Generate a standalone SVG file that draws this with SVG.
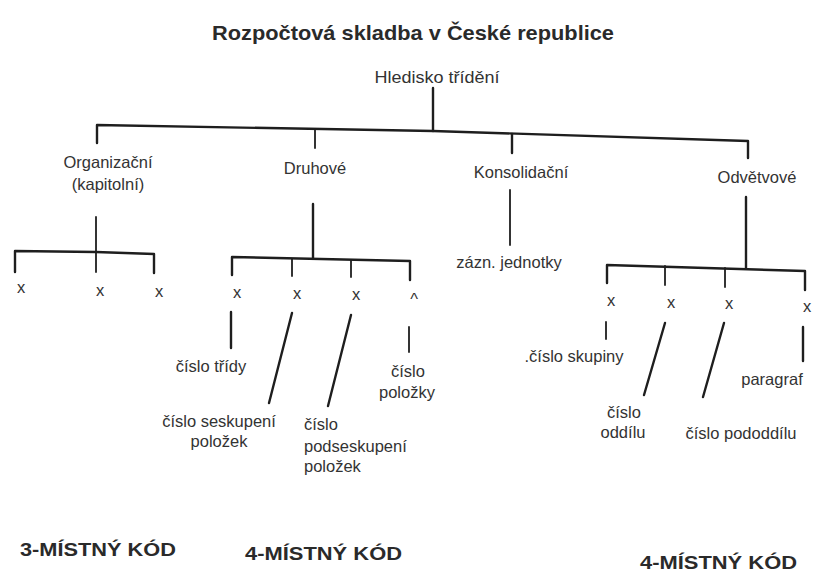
<svg xmlns="http://www.w3.org/2000/svg" width="814" height="574" viewBox="0 0 814 574">
<style>
  text { font-family: "Liberation Sans", Arial, sans-serif; fill: #333; font-size: 16.5px; }
  .c { text-anchor: middle; }
  .t { font-weight: bold; font-size: 21px; fill: #2a2a2a; }
  .k { font-weight: bold; font-size: 19px; fill: #2a2a2a; }
  .ln { fill: none; stroke: #1e1e1e; stroke-width: 2.4; stroke-linecap: round; stroke-linejoin: round; }
  .th { stroke-width: 1.8; }
</style>
<rect width="814" height="574" fill="#fff"/>
<text class="t c" x="413" y="40" textLength="402" lengthAdjust="spacingAndGlyphs">Rozpočtová skladba v České republice</text>

<g id="connectors">
  <path class="ln" d="M433 88 V131"/>
  <path class="ln" d="M97 143 V125 L433 131 L748 141 V158"/>
  <path class="ln th" d="M315 130 V148"/>
  <path class="ln" d="M512 134 V153"/>
  <path class="ln th" d="M96 217 V272"/>
  <path class="ln" d="M15 272 V251 L96 252 L154 254 V273"/>
  <path class="ln" d="M313 204 V258"/>
  <path class="ln" d="M232 275 V257 L410 261 V280"/>
  <path class="ln th" d="M292 259 V276"/>
  <path class="ln th" d="M351 260 V277"/>
  <path class="ln" d="M231 312 V348"/>
  <path class="ln" d="M292 313 L269 403"/>
  <path class="ln" d="M351 315 L328 406"/>
  <path class="ln th" d="M409 327 V352"/>
  <path class="ln th" d="M510 190 V245"/>
  <path class="ln" d="M746 197 V268"/>
  <path class="ln" d="M607 283 V265 L805 271 V290"/>
  <path class="ln th" d="M665 266 V285"/>
  <path class="ln th" d="M725 268 V287"/>
  <path class="ln th" d="M606 322 V339"/>
  <path class="ln" d="M665 323 L644 395"/>
  <path class="ln" d="M724 323 L703 397"/>
  <path class="ln" d="M803 327 V361"/>
</g>

<g id="root"><text class="c" x="437" y="83" textLength="125" lengthAdjust="spacingAndGlyphs">Hledisko třídění</text></g>

<g id="organizacni">
  <text class="c" x="108" y="168">Organizační</text>
  <text class="c" x="108" y="190">(kapitolní)</text>
</g>
<g id="druhove"><text class="c" x="315" y="174">Druhové</text></g>
<g id="konsolidacni"><text class="c" x="521" y="178">Konsolidační</text></g>
<g id="odvetvove"><text class="c" x="757" y="183">Odvětvové</text></g>

<g id="org-x">
  <text class="c" x="21" y="293">x</text>
  <text class="c" x="100" y="296">x</text>
  <text class="c" x="159" y="297">x</text>
</g>
<g id="druh-x">
  <text class="c" x="237" y="298">x</text>
  <text class="c" x="297" y="299">x</text>
  <text class="c" x="356" y="300">x</text>
  <text class="c" x="414" y="305">^</text>
</g>
<g id="zazn"><text class="c" x="509" y="268">zázn. jednotky</text></g>
<g id="odv-x">
  <text class="c" x="611" y="306">x</text>
  <text class="c" x="671" y="308">x</text>
  <text class="c" x="729" y="309">x</text>
  <text class="c" x="807" y="312">x</text>
</g>

<g id="cislo-tridy"><text class="c" x="211" y="372">číslo třídy</text></g>
<g id="cislo-seskupeni">
  <text class="c" x="219" y="427">číslo seskupení</text>
  <text class="c" x="219" y="447">položek</text>
</g>
<g id="cislo-podseskupeni">
  <text x="304" y="430">číslo</text>
  <text x="304" y="452">podseskupení</text>
  <text x="304" y="472">položek</text>
</g>
<g id="cislo-polozky">
  <text class="c" x="408" y="377">číslo</text>
  <text class="c" x="407" y="398">položky</text>
</g>

<g id="cislo-skupiny"><text class="c" x="574" y="362">.číslo skupiny</text></g>
<g id="cislo-oddilu">
  <text class="c" x="624" y="418">číslo</text>
  <text class="c" x="623" y="438">oddílu</text>
</g>
<g id="cislo-pododdilu"><text class="c" x="741" y="439">číslo pododdílu</text></g>
<g id="paragraf"><text class="c" x="772" y="385">paragraf</text></g>

<g id="kody">
  <text class="k" x="20" y="556" textLength="156" lengthAdjust="spacingAndGlyphs">3-MÍSTNÝ KÓD</text>
  <text class="k" x="245" y="560" textLength="157" lengthAdjust="spacingAndGlyphs">4-MÍSTNÝ KÓD</text>
  <text class="k" x="640" y="569" textLength="157" lengthAdjust="spacingAndGlyphs">4-MÍSTNÝ KÓD</text>
</g>
</svg>
